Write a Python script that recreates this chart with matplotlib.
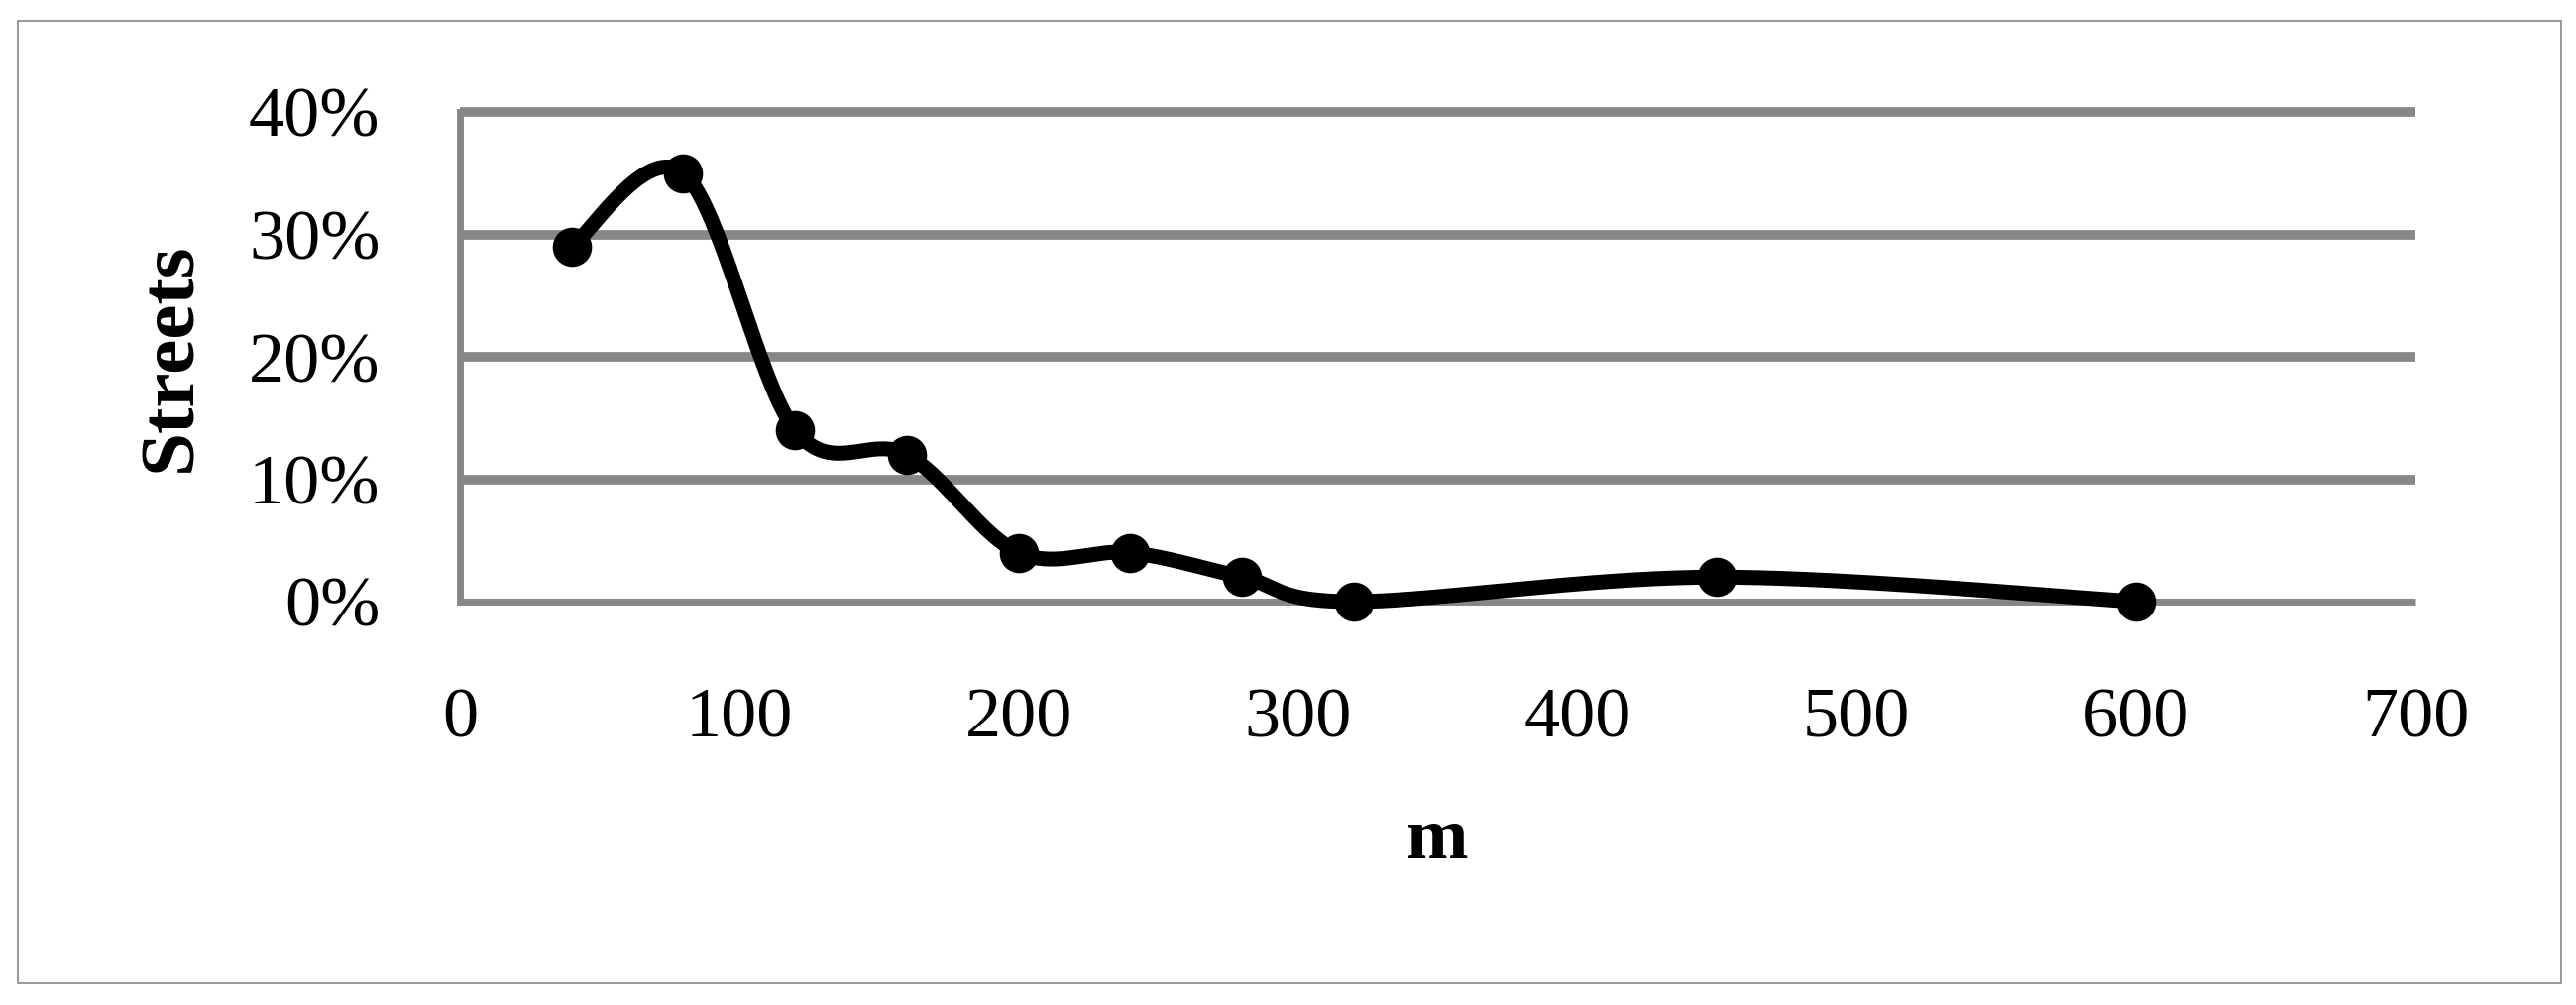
import numpy as np
import matplotlib
matplotlib.use('Agg')
import matplotlib.pyplot as plt
from matplotlib.ticker import PercentFormatter
from matplotlib.patches import Rectangle

distance_m = [40, 80, 120, 160, 200, 240, 280, 320, 450, 600]
streets_share = [0.29, 0.35, 0.14, 0.12, 0.04, 0.04, 0.02, 0.00, 0.02, 0.00]

x_ticks = [0, 100, 200, 300, 400, 500, 600, 700]
y_ticks = [0.0, 0.1, 0.2, 0.3, 0.4]

GRID = '#878787'
plt.rcParams['font.family'] = ['Liberation Serif', 'DejaVu Serif']

W, H, DPI = 2599, 1014, 100
fig = plt.figure(figsize=(W / DPI, H / DPI), dpi=DPI)

# outer chart frame
fig.patches.append(Rectangle((18 / W, 1 - 992 / H), (2584 - 18) / W, (992 - 21) / H,
                             transform=fig.transFigure, fill=False,
                             edgecolor=GRID, linewidth=1.2))

ax = fig.add_axes([464 / W, 1 - 607 / H, (2437 - 464) / W, (607 - 113) / H])
ax.set_xlim(0, 700)
ax.set_ylim(0, 0.4)


def smooth_line(xs, ys, sx, sy, n=40):
    # excel-style smoothed line: cubic bezier with catmull-rom control points,
    # computed in screen-proportional units
    px = np.asarray(xs, float) * sx
    py = np.asarray(ys, float) * sy
    pts = np.column_stack([px, py])
    ext = np.vstack([pts[0], pts, pts[-1]])
    out = []
    t = np.linspace(0, 1, n)[:, None]
    for i in range(len(pts) - 1):
        p0, p1, p2, p3 = ext[i], ext[i + 1], ext[i + 2], ext[i + 3]
        c1 = p1 + (p2 - p0) / 6
        c2 = p2 - (p3 - p1) / 6
        seg = ((1 - t) ** 3) * p1 + 3 * ((1 - t) ** 2) * t * c1 + 3 * (1 - t) * t ** 2 * c2 + t ** 3 * p2
        out.append(seg if i == 0 else seg[1:])
    out = np.vstack(out)
    return out[:, 0] / sx, out[:, 1] / sy


sx = (2437 - 464) / 700
sy = (607 - 113) / 0.4
cx, cy = smooth_line(distance_m, streets_share, sx, sy)
ax.plot(cx, cy, color='black', linewidth=10.8, solid_capstyle='round', zorder=3, clip_on=False)
ax.plot(distance_m, streets_share, 'o', color='black', markersize=27.5, zorder=4, clip_on=False)

ax.set_xticks(x_ticks)
ax.set_yticks(y_ticks)
ax.yaxis.set_major_formatter(PercentFormatter(1.0, decimals=0))
ax.grid(axis='y', color=GRID, linewidth=7)
ax.set_axisbelow(True)
for gl in ax.get_ygridlines():
    gl.set_clip_on(False)
    gl.set_solid_capstyle('butt')
ax.get_ygridlines()[0].set_linewidth(5)
for s in ['top', 'right', 'bottom']:
    ax.spines[s].set_visible(False)
ax.spines['left'].set_color(GRID)
ax.spines['left'].set_linewidth(5)
ax.tick_params(length=0, labelsize=52)
ax.tick_params(axis='x', pad=62)
ax.tick_params(axis='y', pad=58)

ax.set_xlabel('m', fontsize=54, fontweight='bold', labelpad=40)
ax.set_ylabel('Streets', fontsize=57, fontweight='bold', labelpad=30)

fig.savefig('out.png', dpi=DPI)
